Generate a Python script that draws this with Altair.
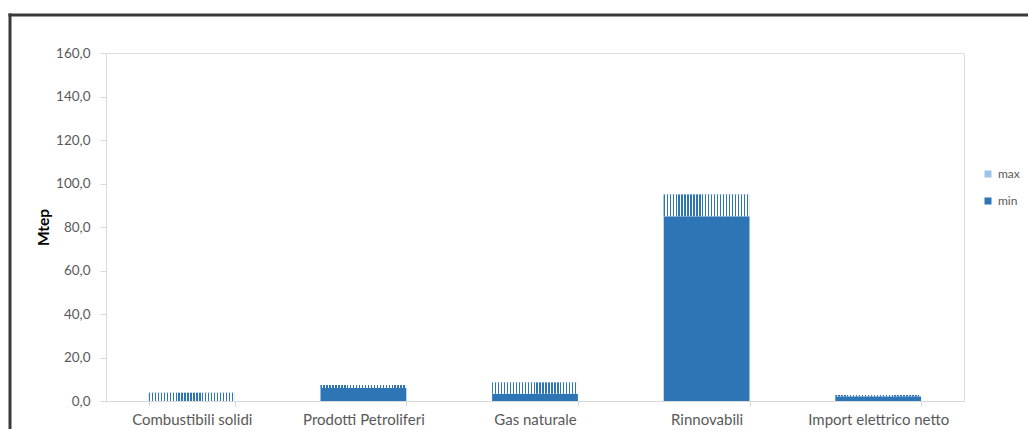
import altair as alt
import pandas as pd

categories = ["Combustibili solidi", "Prodotti Petroliferi", "Gas naturale", "Rinnovabili", "Import elettrico netto"]
min_values = [0.0, 6.0, 3.3, 85.0, 2.2]
max_values = [3.8, 7.3, 8.5, 95.0, 2.8]
series_names = ["max", "min"]
y_ticks = [0, 20, 40, 60, 80, 100, 120, 140, 160]

rows = []
for c, lo, hi in zip(categories, min_values, max_values):
    rows.append({"cat": c, "series": "min", "y0": 0.0, "y1": lo})
    rows.append({"cat": c, "series": "max", "y0": lo, "y1": hi})
df = pd.DataFrame(rows)

FONT = "Lato"
BLUE = "#2e75b6"
LIGHT = "#9dc3e6"
GRAY = "#595959"
AXIS_GRAY = "#d9d9d9"

# striped fill for the "max" segment
N = 29
stops = []
for k in range(N):
    a = k / N
    b = (k + 0.45) / N
    c = (k + 1) / N
    stops += [
        alt.GradientStop(offset=a, color=BLUE),
        alt.GradientStop(offset=b, color=BLUE),
        alt.GradientStop(offset=b, color="#ffffff"),
        alt.GradientStop(offset=c, color="#ffffff"),
    ]
stripes = alt.LinearGradient(gradient="linear", stops=stops, x1=0, y1=0, x2=1, y2=0)

x_enc = alt.X(
    "cat:N",
    sort=categories,
    scale=alt.Scale(paddingInner=0.5, paddingOuter=0.25),
    axis=alt.Axis(
        title=None,
        labelAngle=0,
        labelFont=FONT,
        labelFontSize=15,
        labelColor=GRAY,
        labelPadding=6,
        tickBand="extent",
        tickSize=5,
        tickColor=AXIS_GRAY,
        domainColor=AXIS_GRAY,
        grid=False,
    ),
)
y_scale = alt.Scale(domain=[0, 160], nice=False)
y_axis = alt.Axis(
    title="Mtep",
    titleFont=FONT,
    titleFontSize=15.5,
    titleFontWeight="bold",
    titleColor="#000000",
    titlePadding=4,
    values=y_ticks,
    labelExpr="replace(format(datum.value, '.1f'), '.', ',')",
    labelFont=FONT,
    labelFontSize=13.5,
    labelColor=GRAY,
    labelPadding=10,
    tickSize=6,
    tickColor=AXIS_GRAY,
    domainColor=AXIS_GRAY,
    grid=False,
)

base = alt.Chart(df)

bars = base.mark_bar(strokeWidth=0).encode(
    x=x_enc,
    y=alt.Y("y0:Q", scale=y_scale, axis=y_axis),
    y2="y1:Q",
    color=alt.Color(
        "series:N",
        scale=alt.Scale(domain=series_names, range=[LIGHT, BLUE]),
        legend=alt.Legend(
            title=None,
            orient="none",
            legendX=876,
            legendY=115,
            symbolType="square",
            symbolSize=49,
            symbolStrokeWidth=0,
            labelFont=FONT,
            labelFontSize=12,
            labelColor=GRAY,
            rowPadding=15,
            labelOffset=4,
        ),
    ),
)

hatch = base.transform_filter(alt.datum.series == "max").mark_bar(fill=stripes, strokeWidth=0).encode(
    x=alt.X("cat:N", sort=categories),
    y=alt.Y("y0:Q"),
    y2="y1:Q",
)

frame_data = alt.Data(values=[{}])
frame_top = alt.Chart(frame_data).mark_rule(color="#3a3a3a", strokeWidth=3).encode(
    x=alt.value(-97.5), x2=alt.value(1000), y=alt.value(-38)
)
frame_left = alt.Chart(frame_data).mark_rule(color="#3a3a3a", strokeWidth=3).encode(
    x=alt.value(-96), y=alt.value(-39.5), y2=alt.value(600)
)

chart = alt.layer(frame_top, frame_left, bars, hatch).properties(
    width=858,
    height=348,
    padding={"left": 98, "top": 45, "right": 64, "bottom": 28},
    autosize=alt.AutoSizeParams(type="none"),
).configure_view(stroke=None).configure(background="#ffffff")

chart.save("out.html", embed_options={"renderer": "svg", "actions": False})
